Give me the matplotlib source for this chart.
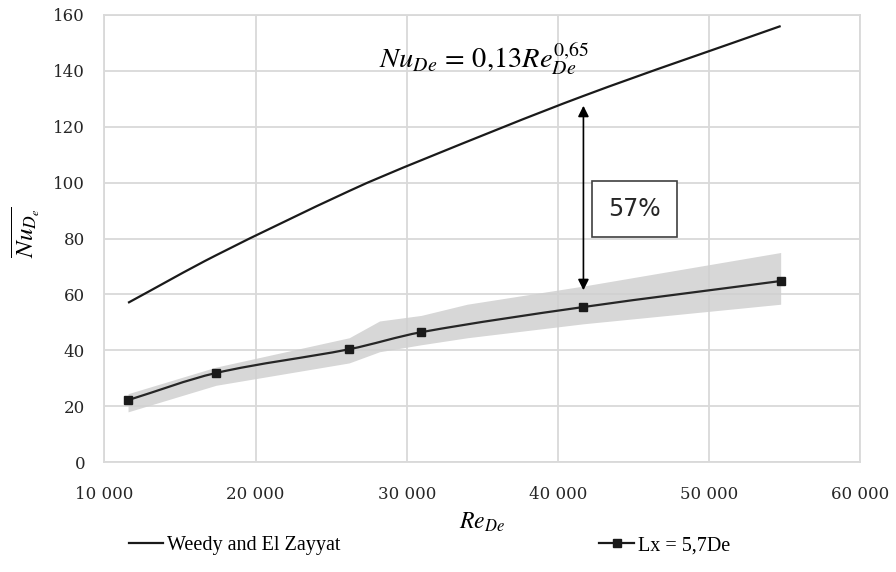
import numpy as np
import matplotlib.pyplot as plt
from matplotlib.path import Path
from matplotlib.patches import PathPatch
from matplotlib.lines import Line2D
from matplotlib.ticker import FuncFormatter

# Reynolds numbers of the measurement points
re_pts = [11560, 17380, 26190, 30960, 41690, 54740]
# Weedy and El Zayyat correlation read at those points
nu_weedy = [57, 74, 97, 108, 131, 156]
# Measured Nu, Lx = 5,7De
nu_lx = [22.2, 31.9, 40.4, 46.5, 55.5, 64.8]

# Uncertainty band
band_re = [11560, 17380, 26190, 28200, 30960, 34000, 41690, 54740]
band_hi = [24.5, 34.0, 44.5, 50.5, 52.5, 56.5, 63.0, 75.0]
band_lo = [18.0, 27.5, 35.5, 39.5, 42.0, 44.5, 49.5, 56.5]

x_ticks = [10000, 20000, 30000, 40000, 50000, 60000]
y_ticks = [0, 20, 40, 60, 80, 100, 120, 140, 160]

plt.rcParams['font.family'] = ['Liberation Serif', 'DejaVu Serif']
plt.rcParams['mathtext.fontset'] = 'stix'


def smooth_path(xs, ys):
    # smoothed line like Excel: cubic bezier segments through the points
    x = np.asarray(xs, float)
    y = np.asarray(ys, float)
    n = len(x)
    s = np.empty(n)
    s[0] = (y[1] - y[0]) / (x[1] - x[0])
    s[-1] = (y[-1] - y[-2]) / (x[-1] - x[-2])
    s[1:-1] = (y[2:] - y[:-2]) / (x[2:] - x[:-2])
    verts = [(x[0], y[0])]
    codes = [Path.MOVETO]
    for i in range(n - 1):
        h = (x[i + 1] - x[i]) / 3
        verts += [(x[i] + h, y[i] + s[i] * h),
                  (x[i + 1] - h, y[i + 1] - s[i + 1] * h),
                  (x[i + 1], y[i + 1])]
        codes += [Path.CURVE4] * 3
    return Path(verts, codes)


fig = plt.figure(figsize=(8.96, 5.72), dpi=100)
ax = fig.add_axes([0.1166, 0.192, 0.8434, 0.782])

grid_c = '#d9d9d9'
ax.set_axisbelow(True)
ax.grid(True, color=grid_c, lw=1.3)
for sp in ax.spines.values():
    sp.set_color(grid_c)
    sp.set_linewidth(1.3)

ax.fill_between(band_re, band_lo, band_hi, color='#d0d0d0', alpha=0.85, lw=0, zorder=2)

line_c = '#1a1a1a'
ax.add_patch(PathPatch(smooth_path(re_pts, nu_weedy), fc='none', ec=line_c, lw=1.6, zorder=3))
ax.add_patch(PathPatch(smooth_path(re_pts, nu_lx), fc='none', ec='#262626', lw=1.6, zorder=4))
ax.plot(re_pts, nu_lx, ls='none', marker='s', ms=6, mfc=line_c, mec=line_c, zorder=5)

ax.set_xlim(10000, 60000)
ax.set_ylim(0, 160)
ax.set_xticks(x_ticks)
ax.set_yticks(y_ticks)
ax.xaxis.set_major_formatter(FuncFormatter(lambda v, p: f"{int(v):,}".replace(',', ' ')))
ax.tick_params(length=0, labelsize=12, colors='#262626')
ax.tick_params(axis='x', pad=17)
ax.tick_params(axis='y', pad=14)
for lab in ax.get_xticklabels() + ax.get_yticklabels():
    lab.set_family('DejaVu Serif')

ax.set_xlabel('$Re_{De}$', fontsize=17, labelpad=6)
ax.set_ylabel(r'$\overline{Nu_{D_e}}$', fontsize=18)
ax.yaxis.set_label_coords(-0.083, 0.515)

# equation and difference annotation
ax.text(35130, 144.5, r'$Nu_{De}\,=\,0{,}13Re_{De}^{0{,}65}$', fontsize=20.5, ha='center', va='center')
ax.annotate('', xy=(41690, 127.5), xytext=(41690, 61.5),
            arrowprops=dict(arrowstyle='<|-|>', color='black', lw=1.2,
                            mutation_scale=16, shrinkA=0, shrinkB=0), zorder=6)
ax.text(45070, 90.5, '57%', fontsize=17, ha='center', va='center', family='DejaVu Sans',
        color='#262626',
        bbox=dict(boxstyle='square,pad=0.68', fc='white', ec='#404040', lw=1.2))

handles = [Line2D([], [], color=line_c, lw=1.6),
           Line2D([], [], color=line_c, lw=1.6, marker='s', ms=6)]
fig.legend(handles, ['Weedy and El Zayyat', 'Lx = 5,7De'], loc='center left',
           bbox_to_anchor=(0.135, 0.046), ncol=2, frameon=False, borderaxespad=0,
           fontsize=14.5, handlelength=1.7, handletextpad=0.2, columnspacing=12.85)

fig.savefig('out.png', dpi=100)
